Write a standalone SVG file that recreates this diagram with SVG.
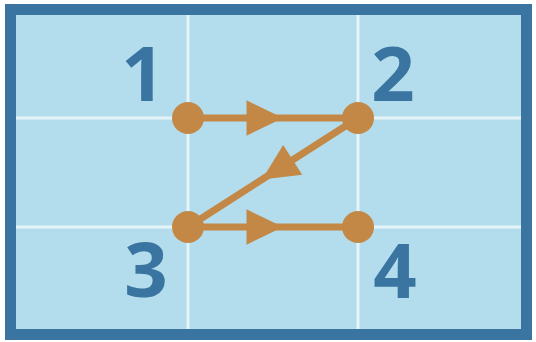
<svg xmlns="http://www.w3.org/2000/svg" width="536" height="342" viewBox="0 0 536 342">
<style>
.grid{stroke:#e6f3f8;stroke-width:3;fill:none}
.conn{stroke:#c38845;stroke-width:7;fill:none;marker-mid:url(#ah)}
.dot{fill:#c38845}
.num{font-family:"Open Sans","DejaVu Sans",sans-serif;font-weight:700;font-size:76px;fill:#3a74a0;text-anchor:middle}
</style>
<defs>
<marker id="ah" markerUnits="userSpaceOnUse" markerWidth="40" markerHeight="40" viewBox="-32 -16 34 32" refX="0" refY="0" orient="auto">
<polygon points="0,0 -31,-15 -31,15" fill="#c38845"/>
</marker>
</defs>
<rect id="frame" x="10.5" y="9.5" width="516" height="325" fill="#b3dcec" stroke="#3a74a0" stroke-width="11"/>
<g id="grid">
<line class="grid" x1="188" y1="15" x2="188" y2="329"/>
<line class="grid" x1="358" y1="15" x2="358" y2="329"/>
<line class="grid" x1="16" y1="118" x2="521" y2="118"/>
<line class="grid" x1="16" y1="227" x2="521" y2="227"/>
</g>
<g id="connectors">
<path class="conn" d="M188,118 L283,118 L358,118"/>
<path class="conn" d="M358,118 L262,179.5 L188,227"/>
<path class="conn" d="M188,227 L283,227 L358,227"/>
</g>
<g id="n1"><circle class="dot" cx="188" cy="118" r="16"/><text class="num" x="143" y="101">1</text></g>
<g id="n2"><circle class="dot" cx="358" cy="118" r="16"/><text class="num" x="393" y="101">2</text></g>
<g id="n3"><circle class="dot" cx="188" cy="227" r="16"/><text class="num" x="146" y="297">3</text></g>
<g id="n4"><circle class="dot" cx="358" cy="227" r="16"/><text class="num" x="395" y="298">4</text></g>
</svg>
